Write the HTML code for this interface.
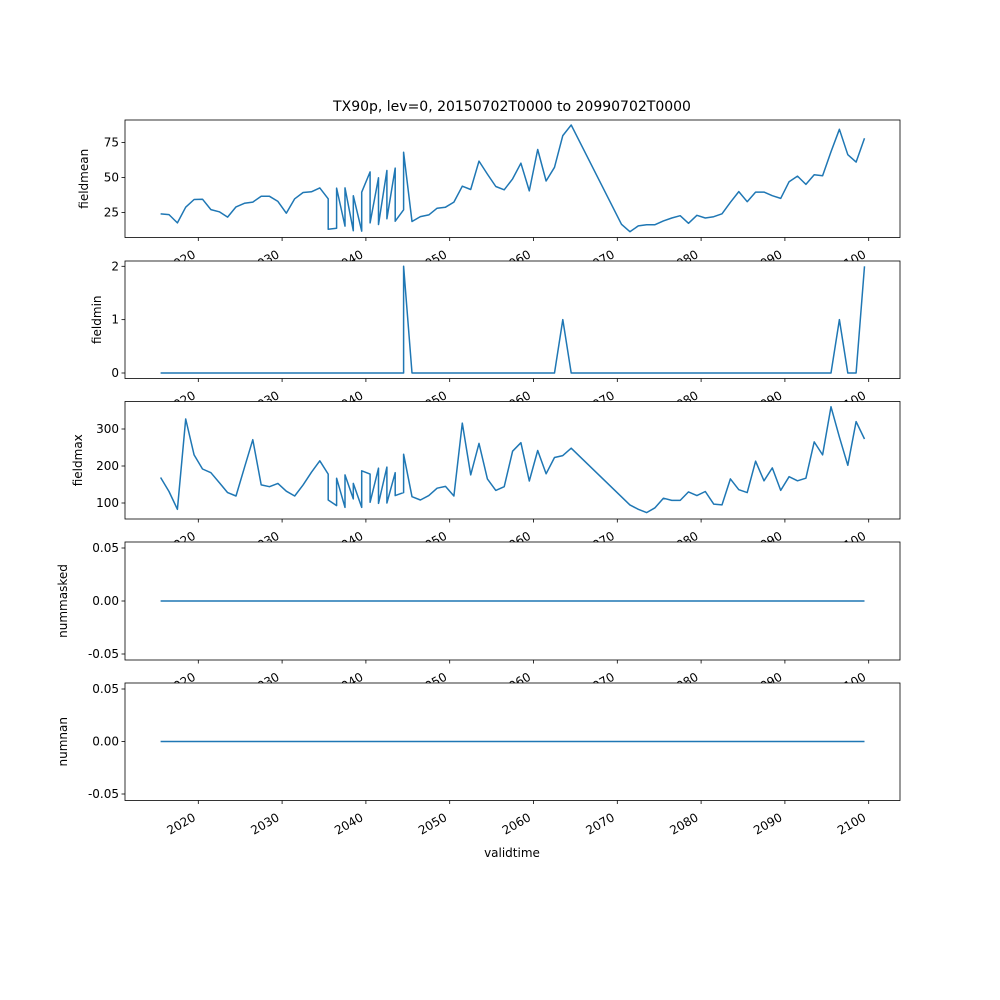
<!DOCTYPE html>
<html><head><meta charset="utf-8"><style>body{margin:0;background:#fff}svg{display:block;font-family:"DejaVu Sans","Liberation Sans",sans-serif}</style></head>
<body>
<svg id="chart" width="1000" height="1000" xmlns="http://www.w3.org/2000/svg">
<rect width="1000" height="1000" fill="#fff"/>
<text x="512" y="111" text-anchor="middle" font-size="14">TX90p, lev=0, 20150702T0000 to 20990702T0000</text>
<text x="512" y="857" text-anchor="middle" font-size="12">validtime</text>
</svg>
<script>
const xTicks = [2020, 2030, 2040, 2050, 2060, 2070, 2080, 2090, 2100];
const yearsA = [2015.5,2016.5,2017.5,2018.5,2019.5,2020.5,2021.5,2022.5,2023.5,2024.5,2025.5,2026.5,2027.5,2028.5,2029.5,2030.5,2031.5,2032.5,2033.5,2034.5,2035.5,
2035.5,2036.5,2036.5,2037.5,2037.5,2038.5,2038.5,2039.5,2039.5,2040.5,2040.5,2041.5,2041.5,2042.5,2042.5,2043.5,2043.5,2044.5,2044.5,
2045.5,2046.5,2047.5,2048.5,2049.5,2050.5,2051.5,2052.5,2053.5,2054.5,2055.5,2056.5,2057.5,2058.5,2059.5,2060.5,2061.5,2062.5,2063.5,2064.5,
2070.5,2071.5,2072.5,2073.5,2074.5,2075.5,2076.5,2077.5,2078.5,2079.5,2080.5,2081.5,2082.5,2083.5,2084.5,2085.5,2086.5,2087.5,2088.5,2089.5,2090.5,2091.5,2092.5,2093.5,2094.5,2095.5,2096.5,2097.5,2098.5,2099.5];
const fieldmean = [24,23.5,17.6,28.8,34.3,34.5,27.1,25.5,21.7,29,31.6,32.4,36.6,36.6,32.9,24.5,34.8,39.3,39.8,42.6,34.8,
13.1,13.8,42.4,15.3,42.6,12,37,11.7,39.5,54,17.6,49.8,16.4,55,20.5,56.7,18.8,26.9,68,
18.6,22.1,23.3,28.1,28.8,32.4,43.8,41.4,61.7,52.4,43.6,41.2,49,60.2,40.4,70,47.5,57.3,79.9,87.5,
16.6,11.3,15.4,16.3,16.3,19,21.1,22.7,17.3,23,21.1,22,24.1,32.3,39.9,32.7,39.6,39.6,37,35.1,47,51,45.1,52,51.3,68.4,84.4,66.3,61,78];
const fieldmin = [0,0,0,0,0,0,0,0,0,0,0,0,0,0,0,0,0,0,0,0,0,
0,0,0,0,0,0,0,0,0,0,0,0,0,0,0,0,0,0,2,
0,0,0,0,0,0,0,0,0,0,0,0,0,0,0,0,0,0,1,0,
0,0,0,0,0,0,0,0,0,0,0,0,0,0,0,0,0,0,0,0,0,0,0,0,0,0,1,0,0,2];
const yearsMax = [2015.5,2016.5,2017.5,2018.5,2019.5,2020.5,2021.5,2022.5,2023.5,2024.5,2025.5,2026.5,2027.5,2028.5,2029.5,2030.5,2031.5,2032.5,2033.5,2034.5,2035.5,
2035.5,2036.5,2036.5,2037.5,2037.5,2038.5,2038.5,2039.5,2039.5,2040.5,2040.5,2041.5,2041.5,2042.5,2042.5,2043.5,2043.5,2044.5,2044.5,
2045.5,2046.5,2047.5,2048.5,2049.5,2050.5,2051.5,2052.5,2053.5,2054.5,2055.5,2056.5,2057.5,2058.5,2059.5,2060.5,2061.5,2062.5,2063.5,2064.5,
2071.5,2072.5,2073.5,2074.5,2075.5,2076.5,2077.5,2078.5,2079.5,2080.5,2081.5,2082.5,2083.5,2084.5,2085.5,2086.5,2087.5,2088.5,2089.5,2090.5,2091.5,2092.5,2093.5,2094.5,2095.5,2096.5,2097.5,2098.5,2099.5];
const fieldmax = [169,131,83,327,230,192,182,155,128,119,195.5,271,149,144,153,132,119,149,183,214,178,
108,93,167,88,176,111,153,88,187,178,102,194,99,197,100,182,120,128,232,
117,108,120,140,145,119,316,176,261,165,134,144,240,263,159.5,242,179,223,228,248,
95,83,74,87,113,107,107,130,120,131,97,95,165,136,128,213,160,195,134,171,160,167,265,230,360,278,202,320,273];
const yearsZero = [2015.5, 2099.5];
const nummasked = [0, 0];
const numnan = [0, 0];
const ticks1 = [25, 50, 75], ticks2 = [0, 1, 2], ticks3 = [100, 200, 300], ticks45 = [-0.05, 0, 0.05];

const NS = 'http://www.w3.org/2000/svg';
const svg = document.getElementById('chart');
const X0 = 125, X1 = 900;
function xs(yr){ return 198.3 + (yr - 2020) * 8.38; }
function mk(tag, attrs, parent){ const e = document.createElementNS(NS, tag); for (const k in attrs) e.setAttribute(k, attrs[k]); (parent||svg).appendChild(e); return e; }

const panels = [
 {name:'fieldmean', top:120, bot:237.5, v0:25, p0:212.5, v1:75, p1:142.5, ticks:ticks1, fmt:v=>String(v), xs:yearsA, ys:fieldmean, lx:84},
 {name:'fieldmin', top:261, bot:378.5, v0:0, p0:373, v1:2, p1:266.3, ticks:ticks2, fmt:v=>String(v), xs:yearsA, ys:fieldmin, lx:97},
 {name:'fieldmax', top:401.5, bot:519, v0:100, p0:503, v1:300, p1:429, ticks:ticks3, fmt:v=>String(v), xs:yearsMax, ys:fieldmax, lx:78},
 {name:'nummasked', top:542, bot:660, v0:0, p0:601, v1:0.05, p1:548, ticks:ticks45, fmt:v=>v.toFixed(2), xs:yearsZero, ys:nummasked, lx:63},
 {name:'numnan', top:683, bot:800.5, v0:0, p0:741.5, v1:0.05, p1:689, ticks:ticks45, fmt:v=>v.toFixed(2), xs:yearsZero, ys:numnan, lx:63}
];
panels.forEach((p, i) => {
  const ys = v => p.p0 + (v - p.v0) * (p.p1 - p.p0) / (p.v1 - p.v0);
  const g = mk('g', {});
  
  
  mk('rect', {x:X0, y:p.top, width:X1-X0, height:p.bot-p.top, fill:'#fff'}, g);
  const d = p.xs.map((yr, j) => (j ? 'L' : 'M') + xs(yr).toFixed(1) + ',' + ys(p.ys[j]).toFixed(1)).join('');
  const line = mk('path', {d:d, fill:'none', stroke:'#1f77b4', 'stroke-width':1.5, 'stroke-linejoin':'round'}, g);
  
  
  mk('rect', {x:X0, y:p.top, width:X1-X0, height:p.bot-p.top, fill:'none', stroke:'#000', 'stroke-width':0.8}, g);
  p.ticks.forEach(t => {
    const y = ys(t);
    mk('line', {x1:X0-3.5, x2:X0, y1:y, y2:y, stroke:'#000', 'stroke-width':0.8}, g);
    const tx = mk('text', {x:X0-6, y:y+4, 'text-anchor':'end', 'font-size':12}, g);
    tx.textContent = p.fmt(t);
    
    
  });
  const yl = mk('text', {transform:'translate(' + (p.lx + 4) + ',' + ((p.top + p.bot) / 2) + ') rotate(-90)', 'text-anchor':'middle', 'font-size':12}, g);
  yl.textContent = p.name;
  
  
  xTicks.forEach(t => {
    const x = xs(t);
    mk('line', {x1:x, x2:x, y1:p.bot, y2:p.bot+3.5, stroke:'#000', 'stroke-width':0.8}, g);
    const tx = mk('text', {transform:'translate(' + (x - 6) + ',' + (p.bot + 12) + ') rotate(-30)', 'text-anchor':'end', dy:'0.7em', 'font-size':12}, g);
    tx.textContent = String(t);
    
    
  });
});
</script>
</body></html>
